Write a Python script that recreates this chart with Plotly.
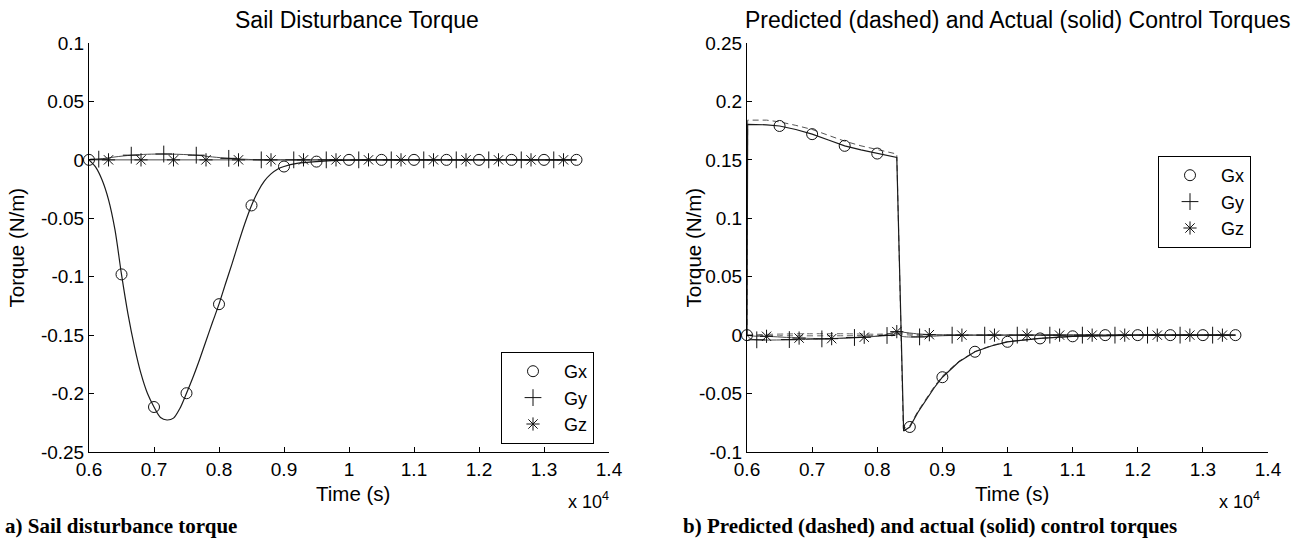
import plotly.graph_objects as go

# ---------------- data (time in seconds) ----------------
# Left panel: sail disturbance torque
sail_gx_t = [6000, 6100, 6200, 6300, 6400, 6500, 6600, 6700, 6800, 6900, 7000, 7100, 7200, 7300,
             7400, 7500, 7600, 7700, 7800, 7900, 8000, 8100, 8200, 8300, 8400, 8500, 8600, 8700,
             8800, 8900, 9000, 9200, 9500, 10000, 10500, 13500]
sail_gx_v = [0, -0.006, -0.017, -0.034, -0.060, -0.098, -0.132, -0.160, -0.183, -0.200, -0.2115,
             -0.2205, -0.2226, -0.221, -0.2125, -0.1997, -0.186, -0.171, -0.155, -0.139, -0.1235,
             -0.106, -0.089, -0.071, -0.054, -0.039, -0.027, -0.018, -0.012, -0.008, -0.0057,
             -0.003, -0.0015, -0.0003, 0, 0]
sail_gy_t = [6000, 6150, 6400, 6650, 6900, 7150, 7400, 7650, 7900, 8150, 8400, 8650, 9000, 13500]
sail_gy_v = [0, 0.0006, 0.0025, 0.004, 0.0048, 0.005, 0.0047, 0.004, 0.0025, 0.0013, 0.0005, 0, 0, 0]
sail_gz_t = [6000, 13500]
sail_gz_v = [0, 0]

mk_gx_t = [6000, 6500, 7000, 7500, 8000, 8500, 9000, 9500, 10000, 10500, 11000, 11500, 12000,
           12500, 13000, 13500]
mk_gy_t = [6150, 6650, 7150, 7650, 8150, 8650, 9150, 9650, 10150, 10650, 11150, 11650, 12150,
           12650, 13150]
mk_gz_t = [6300, 6800, 7300, 7800, 8300, 8800, 9300, 9800, 10300, 10800, 11300, 11800, 12300,
           12800, 13300]

sail_mk_gx = [0, -0.098, -0.2115, -0.1997, -0.1235, -0.039, -0.0057, -0.0015, 0, 0, 0, 0, 0, 0, 0, 0]
sail_mk_gy = [0.0006, 0.004, 0.005, 0.004, 0.0013, 0, 0, 0, 0, 0, 0, 0, 0, 0, 0]
sail_mk_gz = [0, 0, 0, 0, 0, 0, 0, 0, 0, 0, 0, 0, 0, 0, 0]

# Right panel: actual (solid) control torques
act_gx_t = [6000, 6010, 6300, 6500, 6750, 7000, 7250, 7500, 7750, 8000, 8150, 8300, 8405, 8500,
            8625, 8750, 8875, 9000, 9250, 9500, 9750, 10000, 10500, 11000, 11500, 12000, 13500]
act_gx_v = [0, 0.1803, 0.180, 0.179, 0.176, 0.172, 0.167, 0.162, 0.1585, 0.1554, 0.154, 0.152,
            -0.082, -0.0786, -0.066, -0.055, -0.045, -0.036, -0.023, -0.0142, -0.0093, -0.0057,
            -0.0028, -0.001, -0.0003, 0, 0]
act_gy_t = [6000, 6050, 6150, 6650, 7150, 7650, 8000, 8150, 8300, 8400, 8650, 9000, 9500, 13500]
act_gy_v = [0, -0.003, -0.004, -0.004, -0.0033, -0.002, -0.001, -0.0003, 0.001, -0.0012, -0.0015,
            -0.0005, 0, 0]
act_gz_t = [6000, 6100, 6300, 6800, 7300, 7800, 8100, 8300, 8400, 8600, 8800, 9000, 9500, 13500]
act_gz_v = [0, -0.0008, -0.001, -0.0025, -0.003, -0.0018, 0.0, 0.003, 0.0025, 0.0012, 0.0005,
            0.0002, 0, 0]

# Right panel: predicted (dashed) control torques
pred_gx_t = [6000, 6010, 6300, 6500, 6750, 7000, 7250, 7500, 7750, 8000, 8150, 8300, 8400, 8500,
             8625, 8750, 8875, 9000, 9250, 9500, 9750, 10000, 10500, 11000, 11500, 12000, 13500]
pred_gx_v = [0, 0.184, 0.184, 0.1825, 0.1795, 0.176, 0.171, 0.166, 0.162, 0.159, 0.157, 0.155,
             -0.080, -0.0775, -0.065, -0.054, -0.044, -0.035, -0.0225, -0.014, -0.009, -0.0055,
             -0.0027, -0.001, -0.0003, 0, 0]
pred_gy_t = [6000, 6200, 6600, 7000, 7500, 8000, 8300, 8500, 9000, 13500]
pred_gy_v = [0, 0.0005, 0.001, 0.0012, 0.0012, 0.0008, 0.0015, 0.0, 0, 0]
pred_gz_t = [6000, 6500, 7500, 8000, 8300, 8600, 9000, 13500]
pred_gz_v = [0, -0.0005, -0.0005, 0.0, 0.002, 0.0005, 0, 0]

ctrl_mk_gx = [0, 0.179, 0.172, 0.162, 0.1554, -0.0786, -0.036, -0.0142, -0.0057, -0.0028,
              -0.001, 0, 0, 0, 0, 0]
ctrl_mk_gy = [-0.004, -0.0038, -0.0032, -0.002, -0.0003, -0.0015, 0, 0, 0, 0, 0, 0, 0, 0, 0]
ctrl_mk_gz = [-0.001, -0.0025, -0.003, -0.0018, 0.003, 0.0004, 0, 0, 0, 0, 0, 0, 0, 0, 0]

x_tickvals = [6000, 7000, 8000, 9000, 10000, 11000, 12000, 13000, 14000]
x_ticktext = ["0.6", "0.7", "0.8", "0.9", "1", "1.1", "1.2", "1.3", "1.4"]
yl_tickvals = [-0.25, -0.2, -0.15, -0.1, -0.05, 0, 0.05, 0.1]
yl_ticktext = ["-0.25", "-0.2", "-0.15", "-0.1", "-0.05", "0", "0.05", "0.1"]
yr_tickvals = [-0.1, -0.05, 0, 0.05, 0.1, 0.15, 0.2, 0.25]
yr_ticktext = ["-0.1", "-0.05", "0", "0.05", "0.1", "0.15", "0.2", "0.25"]

series_names = ["Gx", "Gy", "Gz"]
symbols = ["circle-open", "cross-thin-open", "asterisk-open"]

# ---------------- figure ----------------
W, H = 1298, 542
FONT = "Liberation Sans, Arial, Helvetica, sans-serif"
SERIF = "Liberation Serif, Times New Roman, serif"
BLACK = "#000000"
GRAY = "#4a4a4a"

fig = go.Figure()

def line(x, y, xa, ya, color, width=1.1, dash="solid", shape="linear"):
    fig.add_trace(go.Scatter(x=x, y=y, mode="lines", xaxis=xa, yaxis=ya, showlegend=False,
                             line=dict(color=color, width=width, dash=dash, shape=shape,
                                       smoothing=0.8), hoverinfo="skip"))

def marks(x, y, xa, ya, sym, name, legend, size):
    fig.add_trace(go.Scatter(x=x, y=y, mode="markers", xaxis=xa, yaxis=ya, name=name,
                             legend=legend, cliponaxis=False,
                             marker=dict(symbol=sym, size=size, color="#111111",
                                         line=dict(width=1, color="#111111"))))

# left panel
line(sail_gy_t, sail_gy_v, "x", "y", GRAY, 1.0, shape="spline")
line(sail_gz_t, sail_gz_v, "x", "y", GRAY, 1.0)
line(sail_gx_t, sail_gx_v, "x", "y", "#1a1a1a", 1.2, shape="spline")
for t, v, sym, nm, sz in zip([mk_gx_t, mk_gy_t, mk_gz_t], [sail_mk_gx, sail_mk_gy, sail_mk_gz],
                             symbols, series_names, [11, 12, 11]):
    marks(t, v, "x", "y", sym, nm, "legend", sz)

# right panel
line(pred_gy_t, pred_gy_v, "x2", "y2", "#6a6a6a", 1.0, dash="6px,4px", shape="spline")
line(pred_gz_t, pred_gz_v, "x2", "y2", "#6a6a6a", 1.0, dash="6px,4px", shape="spline")
line(pred_gx_t, pred_gx_v, "x2", "y2", "#555555", 1.0, dash="6px,4px")
line(act_gy_t, act_gy_v, "x2", "y2", GRAY, 1.0, shape="spline")
line(act_gz_t, act_gz_v, "x2", "y2", GRAY, 1.0, shape="spline")
line(act_gx_t, act_gx_v, "x2", "y2", "#1a1a1a", 1.2)
for t, v, sym, nm, sz in zip([mk_gx_t, mk_gy_t, mk_gz_t], [ctrl_mk_gx, ctrl_mk_gy, ctrl_mk_gz],
                             symbols, series_names, [11, 12, 11]):
    marks(t, v, "x2", "y2", sym, nm, "legend2", sz)

# geometry in pixels
L1, R1 = 89, 609
L2, R2 = 747, 1268
TOP, BOT = 43, 452

def px(v):
    return v / W

def py(v):
    return 1 - v / H

axis_common = dict(showline=True, linecolor=BLACK, linewidth=1, ticks="inside", ticklen=5,
                   tickcolor=BLACK, tickwidth=1, showgrid=False, zeroline=False, mirror=False,
                   automargin=False,
                   tickfont=dict(family=FONT, size=19, color=BLACK), tickmode="array")

fig.update_layout(
    width=W, height=H, margin=dict(l=0, r=0, t=0, b=0, autoexpand=False),
    paper_bgcolor="white", plot_bgcolor="white",
    xaxis=dict(domain=[px(L1), px(R1)], range=[6000, 14000], anchor="y",
               tickvals=x_tickvals, ticktext=x_ticktext, **axis_common),
    yaxis=dict(domain=[py(BOT), py(TOP)], range=[-0.25, 0.1], anchor="x",
               tickvals=yl_tickvals, ticktext=yl_ticktext, **axis_common),
    xaxis2=dict(domain=[px(L2), px(R2)], range=[6000, 14000], anchor="y2",
                tickvals=x_tickvals, ticktext=x_ticktext, **axis_common),
    yaxis2=dict(domain=[py(BOT), py(TOP)], range=[-0.1, 0.25], anchor="x2",
                tickvals=yr_tickvals, ticktext=yr_ticktext, **axis_common),
    legend=dict(x=px(594), y=py(444), xanchor="right", yanchor="bottom",
                bordercolor=BLACK, borderwidth=1, bgcolor="white", itemwidth=52,
                font=dict(family=FONT, size=18, color=BLACK), tracegroupgap=0),
    legend2=dict(x=px(1251), y=py(156), xanchor="right", yanchor="top",
                 bordercolor=BLACK, borderwidth=1, bgcolor="white", itemwidth=52,
                 font=dict(family=FONT, size=18, color=BLACK), tracegroupgap=0),
)

ann = []
def text(x, y, s, size=19, angle=0, xanchor="center", family=FONT):
    ann.append(dict(x=px(x), y=py(y), xref="paper", yref="paper", text=s, showarrow=False,
                    xanchor=xanchor, yanchor="middle", textangle=angle,
                    font=dict(family=family, size=size, color=BLACK)))

text((L1 + R1) / 2 + 8, 20, "Sail Disturbance Torque", 23)
text((L2 + R2) / 2 + 10, 20, "Predicted (dashed) and Actual (solid) Control Torques", 23)
text((L1 + R1) / 2 + 4, 493, "Time (s)", 20.5)
text((L2 + R2) / 2 + 4, 493, "Time (s)", 20.5)
text(R1 + 2, 500, "x 10<sup>4</sup>", 18, xanchor="right")
text(R2 - 6, 500, "x 10<sup>4</sup>", 18, xanchor="right")
text(16, (TOP + BOT) / 2, "Torque (N/m)", 20.5, angle=-90)
text(693, (TOP + BOT) / 2, "Torque (N/m)", 20.5, angle=-90)
text(3, 526, "<b>a) Sail disturbance torque</b>", 21, xanchor="left", family=SERIF)
text(681, 526, "<b>b) Predicted (dashed) and actual (solid) control torques</b>", 21,
     xanchor="left", family=SERIF)
fig.update_layout(annotations=ann)

fig.write_html("out.html", config={"displayModeBar": False},
               post_script="document.body.style.margin='0';document.body.style.overflow='hidden';")
